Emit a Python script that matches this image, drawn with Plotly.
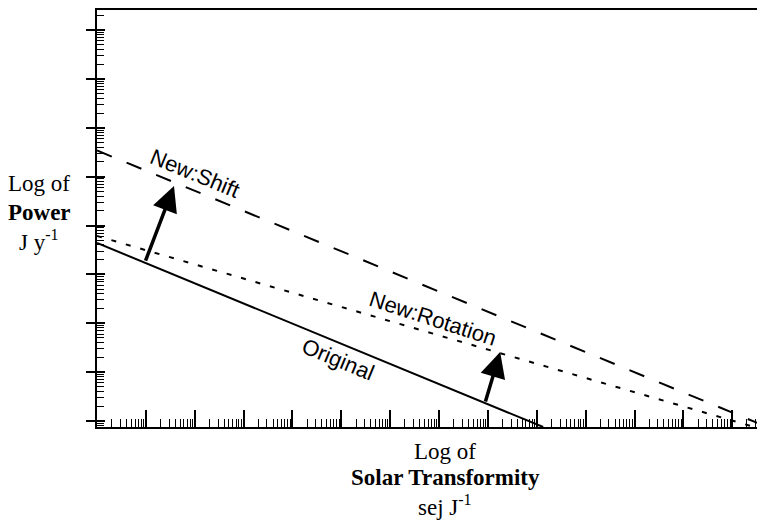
import numpy as np
import plotly.graph_objects as go

# ---- data (log10 units) ----
original_logx = [0.0, 9.13]
original_logy = [3.643, -0.123]
shift_logx = [0.0, 13.67]
shift_logy = [5.536, -0.104]
rotation_logx = [0.0, 13.45]
rotation_logy = [3.786, -0.123]

# arrows: [tail, tip] in log10 units
arrow_shift_logx = [0.982, 1.576]
arrow_shift_logy = [3.25, 4.81]
arrow_rot_logx = [7.94, 8.25]
arrow_rot_logy = [0.37, 1.41]

# line labels: text, log10 x, log10 y, angle (degrees, clockwise)
label_text = ["New:Shift", "New:Rotation", "Original"]
label_logx = [2.005, 6.875, 4.93]
label_logy = [5.07, 2.10, 1.25]
label_angle = [22.4, 18.0, 22.4]

x_range_log = [0.0, 13.67]
y_range_log = [-0.123, 8.41]

# page body has an 8px margin, so the figure is 8px smaller than the window
W, H = 757, 515
L, R, T, B = 89, 0, 2, 96
OFF = 8  # reference-pixel offset

def p10(v):
    return list(np.power(10.0, v))

fig = go.Figure()
fig.add_trace(go.Scatter(x=p10(original_logx), y=p10(original_logy), mode="lines",
                         line=dict(color="black", width=2), showlegend=False, hoverinfo="skip"))
fig.add_trace(go.Scatter(x=p10(shift_logx), y=p10(shift_logy), mode="lines",
                         line=dict(color="black", width=2, dash="16px,16px"), showlegend=False, hoverinfo="skip"))
fig.add_trace(go.Scatter(x=p10(rotation_logx), y=p10(rotation_logy), mode="lines",
                         line=dict(color="black", width=2, dash="5px,10px"), showlegend=False, hoverinfo="skip"))
fig.add_trace(go.Scatter(x=[1], y=[1], yaxis="y2", mode="markers", marker=dict(opacity=0),
                         showlegend=False, hoverinfo="skip"))

ann = []
for ax_, ay_ in [(arrow_shift_logx, arrow_shift_logy), (arrow_rot_logx, arrow_rot_logy)]:
    ann.append(dict(x=ax_[1], y=ay_[1], ax=ax_[0], ay=ay_[0], xref="x", yref="y",
                    axref="x", ayref="y", text="", showarrow=True, arrowhead=2,
                    arrowsize=1.45, arrowwidth=3.5, arrowcolor="black"))
for t, lx, ly, ang in zip(label_text, label_logx, label_logy, label_angle):
    ann.append(dict(x=lx, y=ly, xref="x", yref="y", text=t, showarrow=False,
                    textangle=ang, font=dict(family="Liberation Sans, Arial", size=22, color="black"),
                    xanchor="center", yanchor="middle"))

pw = W - L - R
ph = H - T - B
def px_x(px):
    return (px - OFF - L) / pw
def px_y(py):
    return (H - B - (py - OFF)) / ph

serif = "Liberation Serif, Times New Roman"
ytitle = [("Log of", 183), ("<b>Power</b>", 212), ("J y<sup>-1</sup>", 240)]
xtitle = [("Log of", 451), ("<b>Solar Transformity</b>", 478), ("sej J<sup>-1</sup>", 505)]
for t, py in ytitle:
    ann.append(dict(x=px_x(39), y=px_y(py), xref="paper", yref="paper", text=t, showarrow=False,
                    font=dict(family=serif, size=23, color="black"), xanchor="center", yanchor="middle"))
for t, py in xtitle:
    ann.append(dict(x=px_x(445), y=px_y(py), xref="paper", yref="paper", text=t, showarrow=False,
                    font=dict(family=serif, size=23, color="black"), xanchor="center", yanchor="middle"))

fig.update_layout(
    width=W, height=H, margin=dict(l=L, r=R, t=T, b=B),
    paper_bgcolor="white", plot_bgcolor="white",
    annotations=ann,
    xaxis=dict(type="log", range=x_range_log, showgrid=False, zeroline=False,
               showline=True, linecolor="black", linewidth=2, mirror=True,
               ticks="inside", ticklen=17, tickwidth=2, tickcolor="black", dtick=1,
               showticklabels=False,
               minor=dict(ticks="inside", ticklen=8, tickwidth=1.2, tickcolor="black", dtick="D1", showgrid=False)),
    yaxis=dict(type="log", range=y_range_log, showgrid=False, zeroline=False,
               showline=True, linecolor="black", linewidth=2,
               ticks="outside", ticklen=9, tickwidth=2, tickcolor="black", dtick=1,
               showticklabels=False,
               minor=dict(ticks="inside", ticklen=7, tickwidth=1.2, tickcolor="black", dtick="D1", showgrid=False)),
    yaxis2=dict(type="log", range=y_range_log, overlaying="y", side="left", showgrid=False,
                zeroline=False, showline=False, ticks="inside", ticklen=8, tickwidth=2,
                tickcolor="black", dtick=1, showticklabels=False),
)

fig.write_html("out.html")
